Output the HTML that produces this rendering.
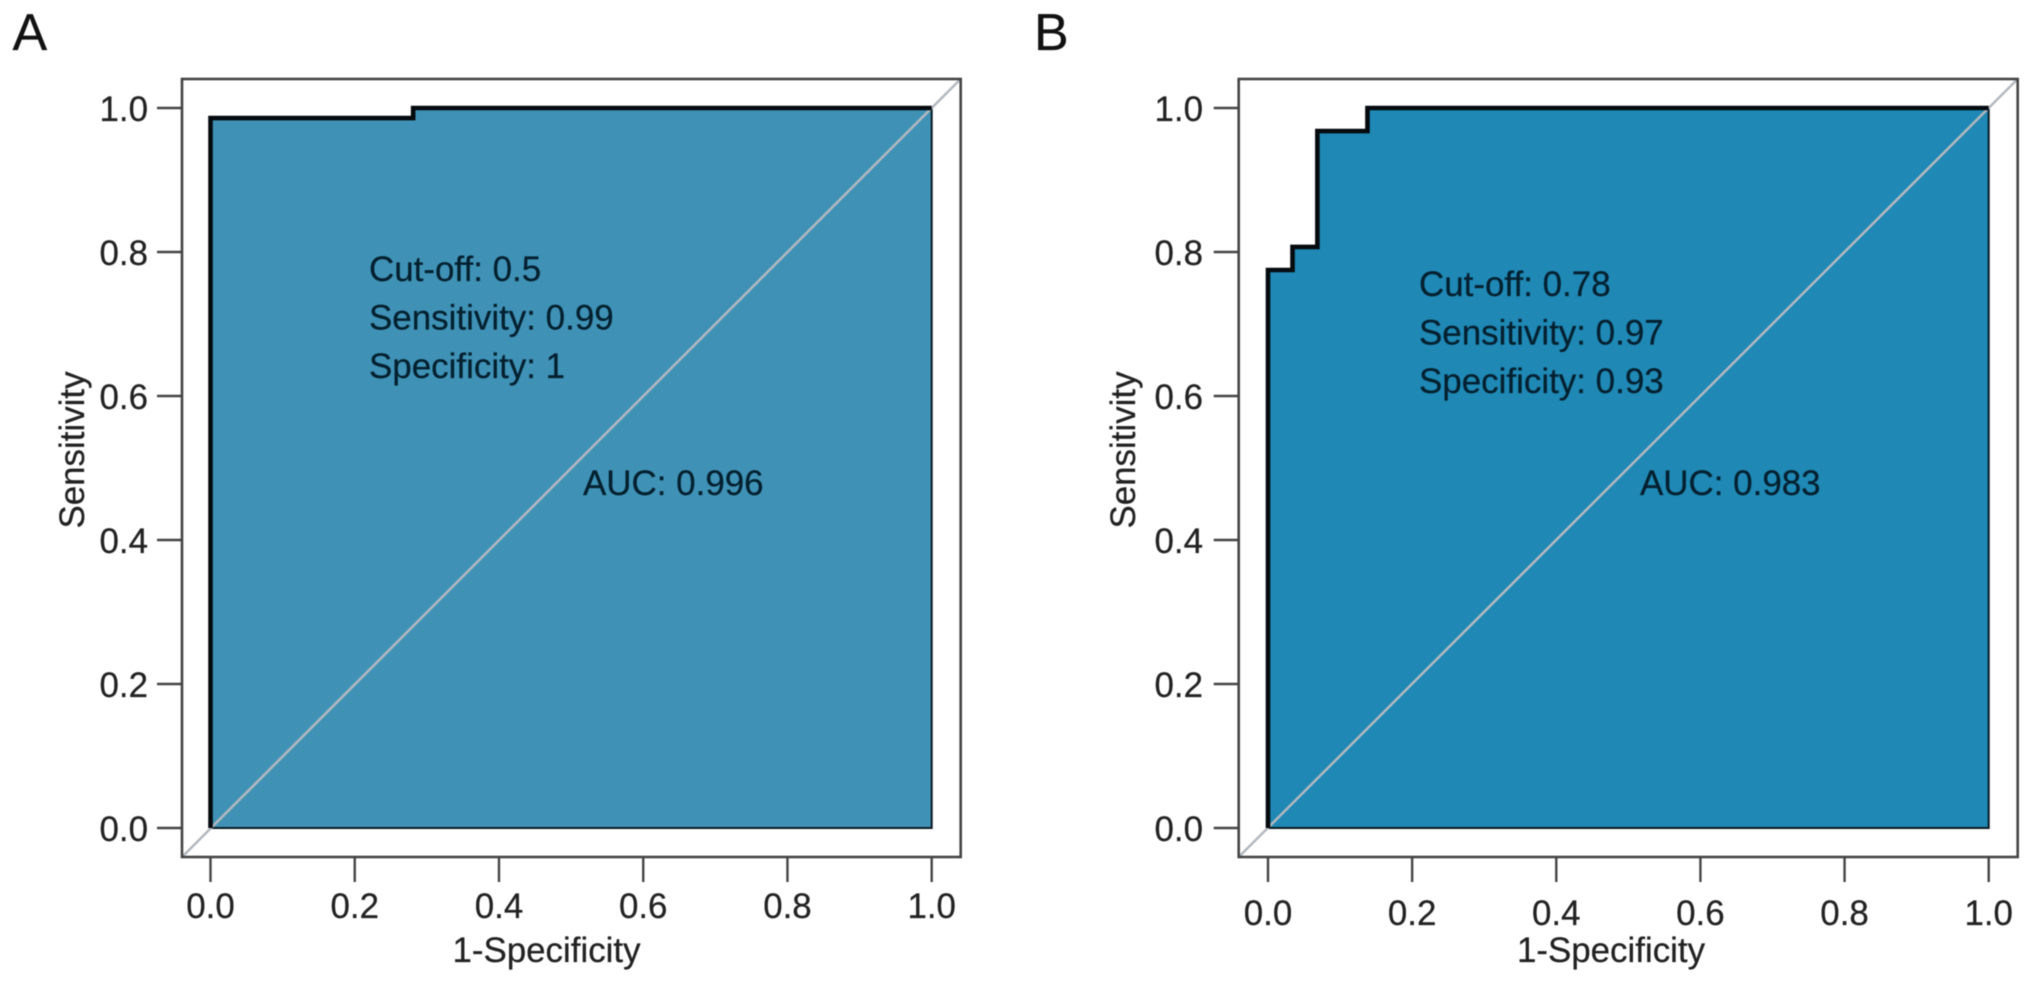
<!DOCTYPE html>
<html lang="en">
<head>
<meta charset="utf-8">
<title>ROC curves</title>
<style>
html,body{margin:0;padding:0;background:#fff;}
svg{display:block;filter:blur(0.45px);}
text{font-family:"Liberation Sans",Arial,sans-serif;stroke:currentColor;stroke-width:0.25px;}
</style>
</head>
<body>
<svg id="figure" xmlns="http://www.w3.org/2000/svg" width="2032" height="983" viewBox="0 0 2032 983">
<rect x="0" y="0" width="2032" height="983" fill="#ffffff"/>
</svg>
<script>
const tickValues = [0, 0.2, 0.4, 0.6, 0.8, 1];
const tickLabels = ["0.0", "0.2", "0.4", "0.6", "0.8", "1.0"];
const fprA = [0, 0, 0.281, 0.281, 1];
const tprA = [0, 0.986, 0.986, 1, 1];
const fprB = [0, 0, 0.034, 0.034, 0.0685, 0.0685, 0.138, 0.138, 1];
const tprB = [0, 0.775, 0.775, 0.807, 0.807, 0.968, 0.968, 1, 1];
const notesA = ["Cut-off: 0.5", "Sensitivity: 0.99", "Specificity: 1"];
const notesB = ["Cut-off: 0.78", "Sensitivity: 0.97", "Specificity: 0.93"];
const aucLabelA = "AUC: 0.996";
const aucLabelB = "AUC: 0.983";

const svg = document.getElementById('figure');
const NS = 'http://www.w3.org/2000/svg';
const FONT = 34.9;
const NOTE_FONT = 34.95;

function make(tag, attrs, parent) {
  const el = document.createElementNS(NS, tag);
  for (const k in attrs) el.setAttribute(k, attrs[k]);
  parent.appendChild(el);
  return el;
}

function drawPanel(p) {
  const sx = v => p.x0 + v * (p.x1 - p.x0);
  const sy = v => p.y0 + v * (p.y1 - p.y0);
  const g = make('g', {}, svg);
  
  

  const letter = make('text', {x: p.letterX, y: 50, 'font-size': 52, fill: '#111', color: '#111'}, g);
  letter.textContent = p.letter;
  
  

  const pts = p.fpr.map((f, i) => sx(f) + ',' + sy(p.tpr[i]));
  const area = make('polygon', {
    points: pts.join(' ') + ' ' + sx(1) + ',' + sy(0),
    fill: p.fill, stroke: '#0a1a22', 'stroke-width': 2
  }, g);
  
  

  const diag = make('line', {
    x1: p.boxL, y1: p.boxB, x2: p.boxR, y2: p.boxT,
    stroke: '#b4b8c0', 'stroke-width': 2.5
  }, g);
  
  

  const curve = make('polyline', {
    points: pts.join(' '), fill: 'none', stroke: '#050a0e',
    'stroke-width': 4.6, 'stroke-linejoin': 'miter'
  }, g);
  
  

  const box = make('rect', {
    x: p.boxL, y: p.boxT, width: p.boxR - p.boxL, height: p.boxB - p.boxT,
    fill: 'none', stroke: '#444', 'stroke-width': 2.6
  }, g);
  
  

  tickValues.forEach((v, i) => {
    const xt = make('line', {x1: sx(v), y1: p.boxB, x2: sx(v), y2: p.boxB + 25, stroke: '#444', 'stroke-width': 2.4}, g);
    
    

    const xl = make('text', {x: sx(v), y: p.xTickBase, 'font-size': FONT, 'text-anchor': 'middle', fill: '#222', color: '#222'}, g);
    xl.textContent = tickLabels[i];
    
    

    const yt = make('line', {x1: p.boxL - 25, y1: sy(v), x2: p.boxL, y2: sy(v), stroke: '#444', 'stroke-width': 2.4}, g);
    
    

    const yl = make('text', {x: p.yTickEnd, y: sy(v) + 13, 'font-size': FONT, 'text-anchor': 'end', fill: '#222', color: '#222'}, g);
    yl.textContent = tickLabels[i];
    
    
  });

  const xTitle = make('text', {x: p.xTitleX, y: 962, 'font-size': FONT, 'text-anchor': 'middle', fill: '#222', color: '#222'}, g);
  xTitle.textContent = '1-Specificity';
  
  

  const yTitle = make('text', {
    x: 0, y: 0, 'font-size': FONT, 'text-anchor': 'middle', fill: '#222', color: '#222',
    transform: 'translate(' + p.yTitleX + ',450) rotate(-90)'
  }, g);
  yTitle.textContent = 'Sensitivity';
  
  

  p.notes.forEach((line, i) => {
    const t = make('text', {x: p.noteX, y: p.noteY[i], 'font-size': NOTE_FONT, fill: '#04202f', color: '#04202f'}, g);
    t.textContent = line;
    
    
  });

  const auc = make('text', {x: p.aucX, y: 495, 'font-size': NOTE_FONT, fill: '#04202f', color: '#04202f'}, g);
  auc.textContent = p.auc;
  
  
}

drawPanel({
  id: 'panel-a', letter: 'A', letterX: 12.5, fill: '#3f92b6',
  fpr: fprA, tpr: tprA, notes: notesA, auc: aucLabelA,
  x0: 210.5, x1: 931.7, y0: 828, y1: 108,
  boxL: 182, boxR: 960.7, boxT: 79, boxB: 857,
  xTickBase: 918, yTickEnd: 148, xTitleX: 546.5, yTitleX: 84,
  noteX: 369, noteY: [281, 329.5, 378], aucX: 583
});
drawPanel({
  id: 'panel-b', letter: 'B', letterX: 1034, fill: '#1f88b4',
  fpr: fprB, tpr: tprB, notes: notesB, auc: aucLabelB,
  x0: 1268, x1: 1988.7, y0: 828, y1: 108,
  boxL: 1238.7, boxR: 2017.7, boxT: 79, boxB: 857,
  xTickBase: 925, yTickEnd: 1203, xTitleX: 1611, yTitleX: 1135,
  noteX: 1419, noteY: [296, 344.5, 393], aucX: 1640
});
</script>
</body>
</html>
